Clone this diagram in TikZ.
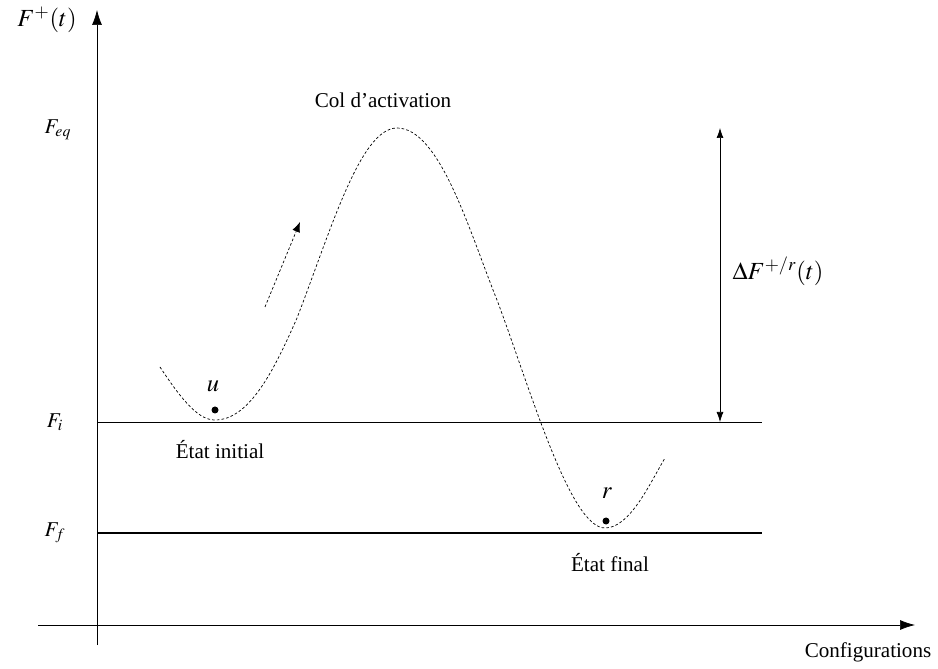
\documentclass[tikz,border=0pt]{standalone}
\usepackage{mathptmx}
\usepackage{fontspec}
\setmainfont{Liberation Serif}
\usepackage{tikz}
\usetikzlibrary{positioning, arrows.meta}
\tikzstyle{axis_line}=[-{Latex[length=3mm, width=2mm]}, thin]
\tikzstyle{level_line}=[thin]
\tikzstyle{path_line}=[thin, dash pattern=on 1.5pt off 1.2pt]
\tikzstyle{txt}=[font=\fontsize{12}{14}\selectfont, inner sep=1pt]
\tikzstyle{mtxt}=[font=\fontsize{14}{16}\selectfont, inner sep=1pt]

\begin{document}
\begin{tikzpicture}
    \useasboundingbox (0,0) rectangle (18.76,13.36);

    % axes
    \coordinate (ybot) at (1.94, 0.46);
    \coordinate (ytop) at (1.94, 13.16);
    \coordinate (xleft) at (0.76, 0.86);
    \coordinate (xright) at (18.3, 0.86);
    \draw[axis_line] (ybot) -- (ytop);
    \draw[axis_line] (xleft) -- (xright);

    \node[mtxt] at (0.94, 12.96) (yname) {$F^{+}(t)$};
    \node[txt] at (17.36, 0.32) (xname) {Configurations};

    % levels
    \node[txt] at (1.16, 10.76) (feq) {$F_{eq}$};
    \node[txt] at (1.10, 4.92) (fi) {$F_{i}$};
    \node[txt] at (1.10, 2.70) (ff) {$F_{f}$};
    \coordinate (fistart) at (1.94, 4.92);
    \coordinate (fiend) at (15.24, 4.92);
    \coordinate (ffstart) at (1.94, 2.70);
    \coordinate (ffend) at (15.24, 2.70);
    \draw[level_line] (fistart) -- (fiend);
    \draw[level_line, semithick] (ffstart) -- (ffend);

    % energy profile
    \coordinate (c0) at (3.20, 6.02);
    \coordinate (umin) at (4.30, 4.96);
    \coordinate (c1) at (5.94, 7.00);
    \coordinate (peak) at (7.94, 10.80);
    \coordinate (c2) at (9.94, 7.36);
    \coordinate (rmin) at (12.10, 2.80);
    \coordinate (c3) at (13.30, 4.20);
    \draw[path_line] (c0) .. controls (3.7, 5.26) and (4.0, 4.96) .. (umin)
        .. controls (5.0, 4.96) and (5.5, 6.0) .. (c1)
        .. controls (6.6, 8.7) and (7.2, 10.8) .. (peak)
        .. controls (8.8, 10.8) and (9.4, 8.7) .. (c2)
        .. controls (10.6, 5.6) and (11.4, 2.8) .. (rmin)
        .. controls (12.6, 2.8) and (13.0, 3.7) .. (c3);

    % states
    \node[txt] at (7.66, 11.36) (col) {Col d'activation};
    \node[txt] at (4.40, 4.36) (einit) {État initial};
    \node[txt] at (12.20, 2.10) (efin) {État final};
    \node[mtxt] at (4.26, 5.64) (u) {$u$};
    \node[mtxt] at (12.14, 3.50) (r) {$r$};
    \fill (4.30, 5.16) circle (0.07);
    \fill (12.12, 2.94) circle (0.07);

    % direction of motion
    \coordinate (mvstart) at (5.30, 7.22);
    \coordinate (mvend) at (6.00, 8.92);
    \draw[path_line, -{Latex[length=2mm, width=1.6mm]}] (mvstart) -- (mvend);

    % barrier height
    \coordinate (btop) at (14.40, 10.80);
    \coordinate (bbot) at (14.40, 4.92);
    \draw[{Latex[length=2mm, width=1.4mm]}-{Latex[length=2mm, width=1.4mm]}, thin] (btop) -- (bbot);
    \node[mtxt] at (15.56, 7.94) (dF) {$\Delta F^{+/r}(t)$};
\end{tikzpicture}
\end{document}
